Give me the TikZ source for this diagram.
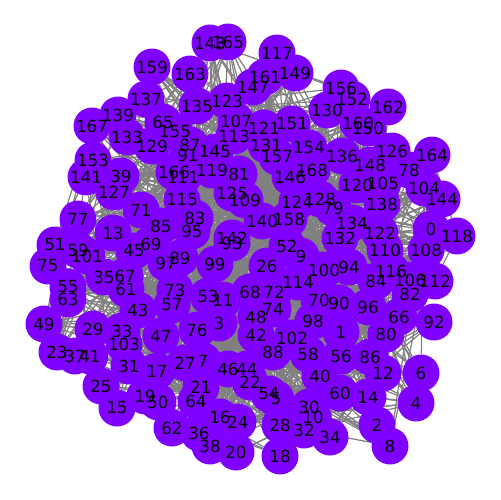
\documentclass[tikz,border=0pt]{standalone}
\usepackage{fontspec}
\setmainfont{DejaVu Sans}
\usepackage{xcolor}
\definecolor{vertex}{RGB}{127, 0, 255}
\definecolor{edgegray}{RGB}{128, 128, 128}
\usepackage{tikz}
\usetikzlibrary{backgrounds}

\begin{document}
\begin{tikzpicture}[x=0.02cm, y=-0.02cm,
    vtx/.style={circle, fill=vertex, inner sep=0pt, minimum size=0.74cm},
    vlabel/.style={inner sep=0pt, font=\fontsize{9.5}{11}\selectfont, text=black},
    link/.style={edgegray, line width=0.7pt}]
    \useasboundingbox (0,0) rectangle (500,500);

    % Vertices (pixel positions of the layout)
    \foreach \i/\x/\y in {0/431/229, 1/341/332, 2/377/425, 3/219/323, 4/416/403, 5/276/399,
      6/421/373, 7/203/361, 8/390/446, 9/301/256, 10/313/417, 11/223/300, 12/383/373,
      13/113/233, 14/368/397, 15/117/408, 16/220/417, 17/157/371, 18/280/456, 19/145/396,
      20/236/452, 21/201/387, 22/250/382, 23/57/352, 24/238/422, 25/101/386, 26/267/266,
      27/185/363, 28/280/425, 29/93/329, 30/309/407, 31/129/366, 32/304/430, 33/122/331,
      34/330/437, 35/104/277, 36/199/433, 37/75/356, 38/210/446, 39/121/176, 40/320/376,
      41/90/356, 42/256/335, 43/138/310, 44/247/369, 45/134/251, 46/228/369, 47/161/336,
      48/256/317, 49/44/324, 50/158/402, 51/55/245, 52/287/246, 53/208/296, 54/269/394,
      55/68/287, 56/341/356, 57/172/305, 58/308/354, 59/78/250, 60/340/393, 61/126/289,
      62/172/428, 63/68/299, 64/196/401, 65/163/122, 66/399/317, 67/125/276, 68/250/292,
      69/151/244, 70/319/300, 71/141/210, 72/274/292, 73/175/290, 74/273/309, 75/48/266,
      76/197/330, 77/78/219, 78/409/170, 79/333/208, 80/386/334, 81/239/174, 82/410/294,
      83/195/218, 84/376/281, 85/161/226, 86/370/357, 87/190/145, 88/273/352, 89/180/258,
      90/339/303, 91/188/155, 92/434/322, 93/232/243, 94/349/267, 95/192/231, 96/368/307,
      97/166/263, 98/313/321, 99/215/264, 100/324/270, 101/87/256, 102/292/338, 103/124/344,
      104/424/188, 105/383/183, 106/410/280, 107/236/121, 108/426/250, 109/245/200,
      110/385/250, 111/183/177, 112/435/281, 113/234/136, 114/298/282, 115/182/200,
      116/391/271, 117/277/53, 118/457/236, 119/212/170, 120/357/185, 121/264/128,
      122/380/233, 123/227/101, 124/297/202, 125/232/193, 126/392/151, 127/114/192,
      128/320/199, 129/152/146, 130/327/110, 131/266/145, 132/340/238, 133/127/137,
      134/352/223, 135/197/106, 136/342/156, 137/146/99, 138/382/204, 139/118/115,
      140/262/221, 141/86/177, 142/232/238, 143/210/43, 144/442/199, 145/215/152,
      146/290/177, 147/253/87, 148/370/165, 149/295/73, 150/368/128, 151/292/124,
      152/352/99, 153/93/160, 154/309/148, 155/175/132, 156/341/88, 157/277/157,
      158/289/219, 159/152/67, 160/358/123, 161/265/77, 162/388/107, 163/190/74,
      164/432/155, 165/228/42, 166/174/172, 167/92/126, 168/312/170}
      \node[vtx] (n\i) at (\x,\y) {};

    % Labels on top of every disc
    \foreach \i in {0,...,168}
      \node[vlabel] (l\i) at (n\i) {\i};

    % Edges, behind the vertices
    \pgfmathsetseed{7}
    \begin{scope}[on background layer]
      \foreach \i in {0,...,168}
        \foreach \k in {1,...,8} {
          \pgfmathtruncatemacro{\j}{random(0,168)}
          \draw[link] (n\i) -- (n\j);
        }
    \end{scope}
\end{tikzpicture}
\end{document}
